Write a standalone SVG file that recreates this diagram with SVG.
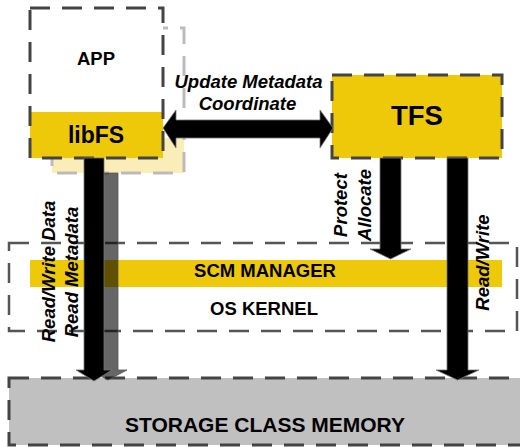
<svg xmlns="http://www.w3.org/2000/svg" width="520" height="447" viewBox="0 0 520 447">
<style>
.t{font-family:"Liberation Sans",Arial,sans-serif;font-weight:bold;fill:#000}
.i{font-style:italic}
.dash{fill:none;stroke:#444;stroke-width:3;stroke-dasharray:20 12}
.dash2{fill:none;stroke:#555;stroke-width:2.5;stroke-dasharray:20 12}
.ar{fill:#000;stroke:#777;stroke-width:0.8}
</style>
<rect width="520" height="447" fill="#fff"/>
<g id="oskernel">
<rect x="9" y="243" width="508" height="88" class="dash2"/>
<rect x="30" y="260" width="472" height="27" fill="#EDC90A"/>
<text class="t" x="265" y="277" font-size="18.5" text-anchor="middle">SCM MANAGER</text>
<text class="t" x="264" y="315" font-size="18.5" text-anchor="middle">OS KERNEL</text>
</g>
<g id="scm">
<rect x="9" y="378" width="530" height="67" fill="#C0C0C0"/>
<rect x="9" y="378" width="530" height="67" class="dash"/>
<text class="t" x="265" y="432" font-size="21" text-anchor="middle">STORAGE CLASS MEMORY</text>
</g>
<g id="app-shadow">
<rect x="52" y="28" width="132" height="145" fill="#fff"/>
<rect x="52" y="138" width="132" height="35" fill="#FAEDB8"/>
<rect x="52" y="28" width="132" height="145" fill="none" stroke="#BBB" stroke-width="3" stroke-dasharray="20 12"/>
</g>
<g id="app">
<rect x="30" y="8" width="133" height="150" fill="#fff"/>
<rect x="30" y="112" width="133" height="46" fill="#EDC90A"/>
<rect x="30" y="8" width="133" height="150" class="dash"/>
<text class="t" x="96" y="65" font-size="18.5" text-anchor="middle">APP</text>
<text class="t" x="96" y="143" font-size="23" text-anchor="middle">libFS</text>
</g>
<g id="tfs">
<rect x="332" y="75" width="170" height="83" fill="#EDC90A"/>
<rect x="332" y="75" width="170" height="83" class="dash"/>
<text class="t" x="417" y="125" font-size="27.5" text-anchor="middle">TFS</text>
</g>
<g id="connectors">
<polygon points="98,173 118,173 118,370 127,370 108,380 89,370 98,370" fill="#000" fill-opacity="0.6" stroke="#555" stroke-width="0.8"/>
<polygon class="ar" points="84,158 104,158 104,370 112,370 94,381 76,370 84,370"/>
<polygon class="ar" points="380,158 401,158 401,249 411,249 390.5,259 370,249 380,249"/>
<polygon class="ar" points="447,158 468,158 468,370 479,370 457.5,380 436,370 447,370"/>
<polygon class="ar" points="163,128 176,110 176,120 320,120 320,110 333,128 320,148 320,138 176,138 176,148"/>
<text class="t i" x="248.5" y="88" font-size="18.5" text-anchor="middle">Update Metadata</text>
<text class="t i" x="247.5" y="110" font-size="18.5" text-anchor="middle">Coordinate</text>
<text class="t i" transform="translate(55,271.5) rotate(-90)" font-size="18.5" text-anchor="middle">Read/Write Data</text>
<text class="t i" transform="translate(78,272) rotate(-90)" font-size="18.5" text-anchor="middle">Read Metadata</text>
<text class="t i" transform="translate(347,205) rotate(-90)" font-size="18.5" text-anchor="middle">Protect</text>
<text class="t i" transform="translate(371,205) rotate(-90)" font-size="18.5" text-anchor="middle">Allocate</text>
<text class="t i" transform="translate(489,262.5) rotate(-90)" font-size="18.5" text-anchor="middle">Read/Write</text>
</g>
</svg>
